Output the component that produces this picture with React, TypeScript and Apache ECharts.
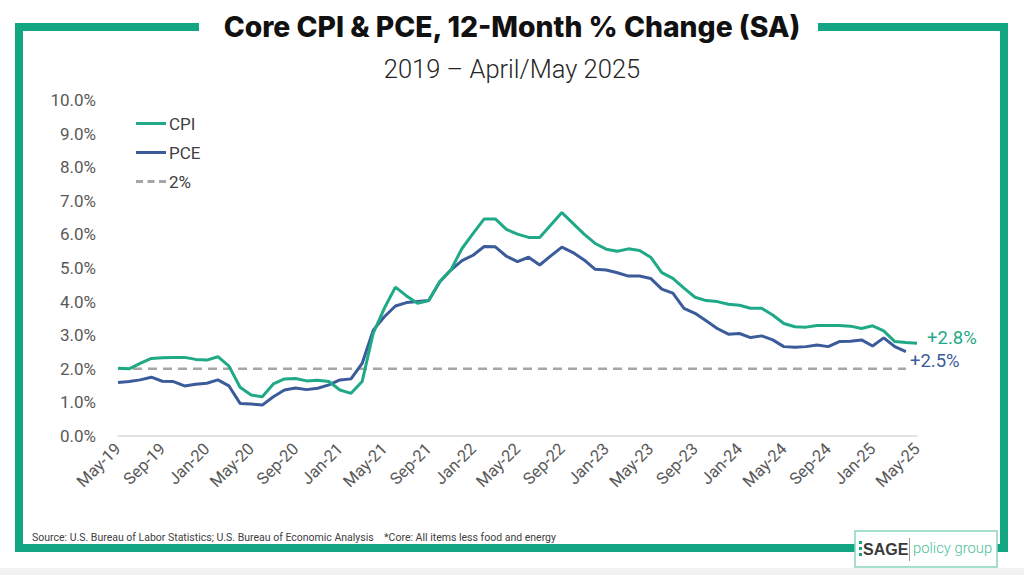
import React, { useEffect, useRef } from "react";
import * as echarts from "echarts";

const months = [
  "May-19","Jun-19","Jul-19","Aug-19","Sep-19","Oct-19","Nov-19","Dec-19",
  "Jan-20","Feb-20","Mar-20","Apr-20","May-20","Jun-20","Jul-20","Aug-20","Sep-20","Oct-20","Nov-20","Dec-20",
  "Jan-21","Feb-21","Mar-21","Apr-21","May-21","Jun-21","Jul-21","Aug-21","Sep-21","Oct-21","Nov-21","Dec-21",
  "Jan-22","Feb-22","Mar-22","Apr-22","May-22","Jun-22","Jul-22","Aug-22","Sep-22","Oct-22","Nov-22","Dec-22",
  "Jan-23","Feb-23","Mar-23","Apr-23","May-23","Jun-23","Jul-23","Aug-23","Sep-23","Oct-23","Nov-23","Dec-23",
  "Jan-24","Feb-24","Mar-24","Apr-24","May-24","Jun-24","Jul-24","Aug-24","Sep-24","Oct-24","Nov-24","Dec-24",
  "Jan-25","Feb-25","Mar-25","Apr-25","May-25",
];

const cpi = [
  2.02, 2.0, 2.16, 2.31, 2.33, 2.34, 2.34, 2.28,
  2.26, 2.36, 2.08, 1.45, 1.22, 1.17, 1.55, 1.7, 1.71, 1.64, 1.66, 1.62,
  1.37, 1.27, 1.62, 3.06, 3.8, 4.43, 4.17, 3.95, 4.03, 4.6, 4.95, 5.58,
  6.03, 6.46, 6.46, 6.15, 6.01, 5.91, 5.91, 6.28, 6.65, 6.33, 6.01, 5.73,
  5.56, 5.5, 5.57, 5.52, 5.32, 4.86, 4.69, 4.4, 4.13, 4.03, 4.0, 3.92,
  3.89, 3.8, 3.8, 3.6, 3.35, 3.25, 3.24, 3.29, 3.29, 3.29, 3.27, 3.2,
  3.28, 3.13, 2.81, 2.78, 2.76,
];

const pce = [
  1.59, 1.62, 1.67, 1.75, 1.63, 1.62, 1.49, 1.54,
  1.57, 1.67, 1.49, 0.97, 0.95, 0.92, 1.17, 1.37, 1.43, 1.38, 1.42, 1.52,
  1.67, 1.7, 2.16, 3.15, 3.55, 3.87, 3.97, 4.0, 4.03, 4.59, 4.94, 5.22,
  5.38, 5.64, 5.63, 5.35, 5.19, 5.32, 5.09, 5.36, 5.62, 5.46, 5.24, 4.96,
  4.94, 4.86, 4.76, 4.76, 4.69, 4.37, 4.25, 3.8, 3.65, 3.43, 3.2, 3.03,
  3.05, 2.93, 2.98, 2.86, 2.66, 2.64, 2.66, 2.71, 2.66, 2.81, 2.82, 2.86,
  2.68, 2.92, 2.66, 2.51,
];

const TARGET = 2;
const targetLine = pce.map(() => TARGET);

const yTicks = { min: 0, max: 10, interval: 1 };

const TITLE = "Core CPI & PCE, 12-Month % Change (SA)";
const SUBTITLE = "2019 \u2013 April/May 2025";
const SOURCE =
  "Source: U.S. Bureau of Labor Statistics; U.S. Bureau of Economic Analysis    *Core: All items less food and energy";

const GREEN = "#1fa987";
const BLUE = "#3b5b9a";
const FRAME = "#12a683";

// legend icons: 30x14 box with a thin bar in the middle (tiny corner dots fix the bbox)
const SOLID_ICON = "path://M0,0h0.01v0.01h-0.01z M0,5.5h30v3h-30z M29.99,13.99h0.01v0.01h-0.01z";
const DASH_ICON =
  "path://M0,0h0.01v0.01h-0.01z M0,5.5h7v3h-7z M11.5,5.5h7v3h-7z M23,5.5h7v3h-7z M29.99,13.99h0.01v0.01h-0.01z";

export default function App() {
  const ref = useRef<HTMLDivElement>(null);
  useEffect(() => {
    document.body.style.margin = "0";
    const chart = echarts.init(ref.current!, undefined, { renderer: "svg" });
    const endFmt = (p: any) => "+" + Number(p.value).toFixed(1) + "%";
    chart.setOption({
      animation: false,
      backgroundColor: "#ffffff",
      grid: { left: 118, right: 107, top: 100, bottom: 139 },
      legend: {
        orient: "vertical",
        left: 136,
        top: 115,
        padding: 0,
        itemWidth: 30,
        itemHeight: 14,
        itemGap: 12,
        data: [
          { name: "CPI", icon: SOLID_ICON },
          { name: "PCE", icon: SOLID_ICON },
          { name: "2%", icon: DASH_ICON },
        ],
        textStyle: { fontFamily: "Roboto", fontSize: 17, color: "#404040", padding: [0, 0, 0, -2] },
      },
      xAxis: {
        type: "category",
        data: months,
        boundaryGap: false,
        axisLine: { lineStyle: { color: "#d9d9d9", width: 1.5 } },
        axisTick: { show: false },
        axisLabel: {
          interval: 3,
          rotate: 45,
          fontFamily: "Roboto",
          fontSize: 16.5,
          color: "#595959",
          margin: 10,
        },
        splitLine: { show: false },
      },
      yAxis: {
        type: "value",
        min: yTicks.min,
        max: yTicks.max,
        interval: yTicks.interval,
        axisLine: { show: false },
        axisTick: { show: false },
        splitLine: { show: false },
        axisLabel: {
          formatter: (v: number) => v.toFixed(1) + "%",
          fontFamily: "Roboto",
          fontSize: 17,
          color: "#595959",
          margin: 22,
        },
      },
      series: [
        {
          name: "2%",
          type: "line",
          data: targetLine,
          symbol: "none",
          lineStyle: { color: "#a6a6a6", width: 2.5, type: [9, 6] },
          itemStyle: { color: "#a6a6a6" },
          z: 1,
        },
        {
          name: "CPI",
          type: "line",
          data: cpi,
          symbol: "none",
          lineStyle: { color: GREEN, width: 3 },
          itemStyle: { color: GREEN },
          endLabel: {
            show: true,
            formatter: endFmt,
            color: GREEN,
            fontFamily: "Roboto",
            fontSize: 18.5,
            offset: [2, -5],
          },
          z: 3,
        },
        {
          name: "PCE",
          type: "line",
          data: pce,
          symbol: "none",
          lineStyle: { color: BLUE, width: 3 },
          itemStyle: { color: BLUE },
          endLabel: {
            show: true,
            formatter: endFmt,
            color: BLUE,
            fontFamily: "Roboto",
            fontSize: 18.5,
            offset: [-4, 9],
          },
          z: 2,
        },
      ],
      graphic: [
        { type: "rect", shape: { x: 0, y: 568, width: 1024, height: 7 }, style: { fill: "#f2f2f2" } },
        { type: "rect", shape: { x: 15, y: 23, width: 184, height: 8 }, style: { fill: FRAME } },
        { type: "rect", shape: { x: 818, y: 23, width: 190, height: 8 }, style: { fill: FRAME } },
        { type: "rect", shape: { x: 15, y: 23, width: 8, height: 529 }, style: { fill: FRAME } },
        { type: "rect", shape: { x: 1000, y: 23, width: 8, height: 529 }, style: { fill: FRAME } },
        { type: "rect", shape: { x: 15, y: 544, width: 993, height: 8 }, style: { fill: FRAME } },
        {
          type: "text",
          x: 512,
          y: 27,
          style: {
            text: TITLE,
            fontFamily: "Inter",
            fontWeight: 800,
            fontSize: 28.3,
            fill: "#111111",
            align: "center",
            verticalAlign: "middle",
          },
        },
        {
          type: "text",
          x: 512,
          y: 69,
          style: {
            text: SUBTITLE,
            fontFamily: "Roboto",
            fontWeight: 300,
            fontSize: 25.5,
            fill: "#262626",
            align: "center",
            verticalAlign: "middle",
          },
        },
        {
          type: "text",
          x: 32,
          y: 537,
          style: {
            text: SOURCE,
            fontFamily: "Roboto",
            fontSize: 10.5,
            fill: "#404040",
            align: "left",
            verticalAlign: "middle",
          },
        },
        {
          type: "rect",
          shape: { x: 855, y: 531, width: 142, height: 36 },
          style: { fill: "#ffffff", stroke: "#8ad5bd", lineWidth: 1.5 },
        },
        { type: "rect", shape: { x: 859, y: 541, width: 3, height: 3 }, style: { fill: FRAME } },
        { type: "rect", shape: { x: 859, y: 547, width: 3, height: 3 }, style: { fill: FRAME } },
        { type: "rect", shape: { x: 859, y: 553, width: 3, height: 3 }, style: { fill: FRAME } },
        {
          type: "text",
          x: 863,
          y: 549,
          style: {
            text: "SAGE",
            fontFamily: "Liberation Sans",
            fontWeight: 700,
            fontSize: 16,
            fill: "#3a3a3a",
            align: "left",
            verticalAlign: "middle",
          },
        },
        {
          type: "line",
          shape: { x1: 909.5, y1: 538, x2: 909.5, y2: 561 },
          style: { stroke: "#9a9a9a", lineWidth: 1 },
        },
        {
          type: "text",
          x: 913,
          y: 548,
          style: {
            text: "policy group",
            fontFamily: "Roboto",
            fontWeight: 300,
            fontSize: 14.8,
            fill: "#4cbf99",
            align: "left",
            verticalAlign: "middle",
          },
        },
      ],
    });
    return () => chart.dispose();
  }, []);
  return <div ref={ref} style={{ width: 1024, height: 575 }} />;
}
